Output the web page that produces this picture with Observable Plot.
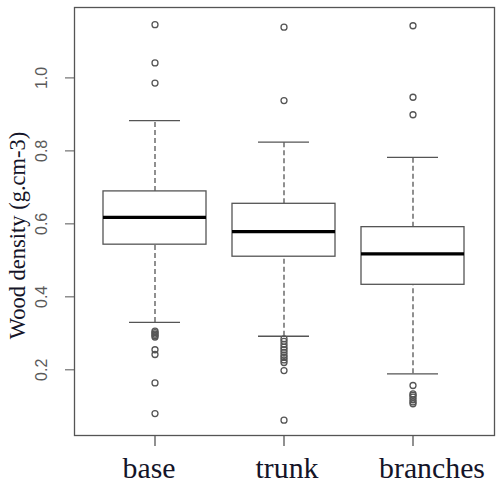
<!DOCTYPE html>
<html>
<head>
<meta charset="utf-8">
<script src="https://cdn.jsdelivr.net/npm/d3@7"></script>
<script src="https://cdn.jsdelivr.net/npm/@observablehq/plot@0.6"></script>
<style>
  html, body { margin: 0; padding: 0; background: #fff; }
  #chart svg { display: block; }
</style>
</head>
<body>
<div id="chart"></div>
<script>
const categories = ["base", "trunk", "branches"];
const whiskerLow = [0.330, 0.292, 0.189];
const q1 = [0.543, 0.510, 0.433];
const median = [0.618, 0.579, 0.518];
const q3 = [0.689, 0.655, 0.591];
const whiskerHigh = [0.883, 0.824, 0.782];
const outliersBase = [1.146, 1.041, 0.986, 0.306, 0.302, 0.298, 0.294, 0.290, 0.255, 0.242, 0.164, 0.080];
const outliersTrunk = [1.139, 0.938, 0.285, 0.278, 0.270, 0.262, 0.255, 0.248, 0.240, 0.234, 0.227, 0.220, 0.198, 0.062];
const outliersBranches = [1.143, 0.947, 0.899, 0.157, 0.134, 0.130, 0.125, 0.118, 0.112, 0.107];
const yTicks = [0.2, 0.4, 0.6, 0.8, 1.0];
const yTitle = "Wood density (g.cm-3)";

const boxes = categories.map((c, i) => ({
  cat: c, lo: whiskerLow[i], q1: q1[i], med: median[i], q3: q3[i], hi: whiskerHigh[i]
}));
const outlierLists = [outliersBase, outliersTrunk, outliersBranches];
const outliers = categories.flatMap((c, i) => outlierLists[i].map(v => ({cat: c, v})));

const lineColor = "#555";
const textColor = "#141428";
const serif = "'Liberation Serif', 'Times New Roman', serif";
const sans = "'Liberation Sans', Arial, sans-serif";

const xLabelStyle = {tickSize: 0, stroke: "none", tickPadding: 21, fontSize: 29.8, fontFamily: serif, fill: textColor};

const chart = Plot.plot({
  width: 500,
  height: 483,
  marginLeft: 74,
  marginRight: 6,
  marginTop: 7,
  marginBottom: 48,
  style: {background: "#fff", overflow: "visible"},
  x: {type: "band", domain: categories, paddingInner: 0.2, paddingOuter: 0.22, label: null},
  y: {domain: [0.02, 1.193], label: null},
  marks: [
    Plot.frame({stroke: lineColor, strokeWidth: 1.3}),
    // whiskers (dashed)
    Plot.ruleX(boxes, {x: "cat", y1: "q3", y2: "hi", stroke: lineColor, strokeWidth: 1.3, strokeDasharray: "5,3"}),
    Plot.ruleX(boxes, {x: "cat", y1: "lo", y2: "q1", stroke: lineColor, strokeWidth: 1.3, strokeDasharray: "5,3"}),
    // staples
    Plot.tickY(boxes, {x: "cat", y: "hi", stroke: lineColor, strokeWidth: 1.3, insetLeft: 26, insetRight: 26}),
    Plot.tickY(boxes, {x: "cat", y: "lo", stroke: lineColor, strokeWidth: 1.3, insetLeft: 26, insetRight: 26}),
    // boxes
    Plot.barY(boxes, {x: "cat", y1: "q1", y2: "q3", fill: "#fff", stroke: lineColor, strokeWidth: 1.3}),
    // medians
    Plot.tickY(boxes, {x: "cat", y: "med", stroke: "#000", strokeWidth: 3.2}),
    // outliers
    Plot.dot(outliers, {x: "cat", y: "v", r: 3, stroke: lineColor, strokeWidth: 1.3, fill: "none"}),
    // y axis
    Plot.axisY({ticks: yTicks, tickSize: 9, tickPadding: 19, tickRotate: -90, tickFormat: d3.format(".1f"),
      stroke: lineColor, fill: "#5a5a5a", fontSize: 16, fontFamily: sans, textAnchor: "middle"}),
    // x axis tick lines
    Plot.axisX({tickSize: 11, fill: "none", stroke: lineColor, strokeWidth: 1.3}),
    // x axis labels (slightly offset as in the reference)
    Plot.axisX([categories[0]], {...xLabelStyle, dx: -6}),
    Plot.axisX([categories[1]], {...xLabelStyle, dx: 3}),
    Plot.axisX([categories[2]], {...xLabelStyle, dx: 19}),
    // y title
    Plot.text([yTitle], {frameAnchor: "left", rotate: -90, dx: -57, dy: 14, fontSize: 22.5,
      fontFamily: serif, fill: textColor, textAnchor: "middle"})
  ]
});
document.getElementById("chart").appendChild(chart);
</script>
</body>
</html>
